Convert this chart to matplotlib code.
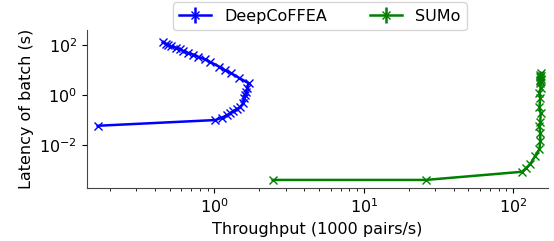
import matplotlib
matplotlib.use("Agg")
import matplotlib.pyplot as plt
import matplotlib.ticker as mticker
import numpy as np

deep_x = [0.165, 1.015, 1.12, 1.215, 1.28, 1.34, 1.42, 1.49, 1.56, 1.585, 1.61, 1.63, 1.66, 1.69,
          1.45, 1.29, 1.17, 1.08, 0.94, 0.86, 0.78, 0.72, 0.66, 0.62, 0.59, 0.55, 0.51, 0.49, 0.47, 0.45]
deep_y = [0.059, 0.1, 0.125, 0.158, 0.19, 0.229, 0.28, 0.331, 0.5, 0.76, 1.0, 1.36, 2.0, 3.0,
          5.0, 7.6, 10.0, 13.5, 21, 27, 34, 42, 50, 58, 69, 80, 91, 100, 112, 128]

sumo_x = [2.45, 26, 115, 122, 130, 140, 150, 152, 152, 150, 152, 153, 150, 152, 150, 153, 152,
          152, 152, 153, 152, 153, 152, 153]
sumo_y = [0.0004, 0.0004, 0.00085, 0.0012, 0.0017, 0.0035, 0.0068, 0.015, 0.03, 0.06, 0.085,
          0.19, 0.34, 0.76, 1.2, 1.9, 3.0, 3.5, 4.0, 4.6, 5.2, 5.8, 6.5, 7.8]

plt.rcParams['font.family'] = ['DejaVu Sans']
fig = plt.figure(figsize=(5.54, 2.41), dpi=100)
ax = fig.add_axes([0.157, 0.22, 0.832, 0.655])

def yerr(y):
    y = np.asarray(y)
    return 0.03 * y

ax.errorbar(deep_x, deep_y, yerr=yerr(deep_y), color='blue', marker='x', markersize=6,
            linewidth=1.8, label='DeepCoFFEA')
ax.errorbar(sumo_x, sumo_y, yerr=yerr(sumo_y), color='green', marker='x', markersize=6,
            linewidth=1.8, label='SUMo')

ax.set_xscale('log')
ax.set_yscale('log')
ax.set_xlim(0.14, 171)
ax.set_ylim(10**-3.72, 10**2.6)
ax.set_yticks([1e-2, 1, 1e2])
ax.yaxis.set_minor_locator(mticker.NullLocator())
ax.spines['top'].set_visible(False)
ax.spines['right'].set_visible(False)
for s in ['left', 'bottom']:
    ax.spines[s].set_color('#444444')
ax.tick_params(labelsize=11.5)
ax.set_xlabel('Throughput (1000 pairs/s)', fontsize=11.5)
ax.set_ylabel('Latency of batch (s)', fontsize=11.5)
ax.legend(loc='lower center', bbox_to_anchor=(0.505, 1.0), ncol=2, fontsize=11.5,
          handlelength=2, columnspacing=2.7, borderaxespad=0)

fig.savefig('out.png', dpi=100)
